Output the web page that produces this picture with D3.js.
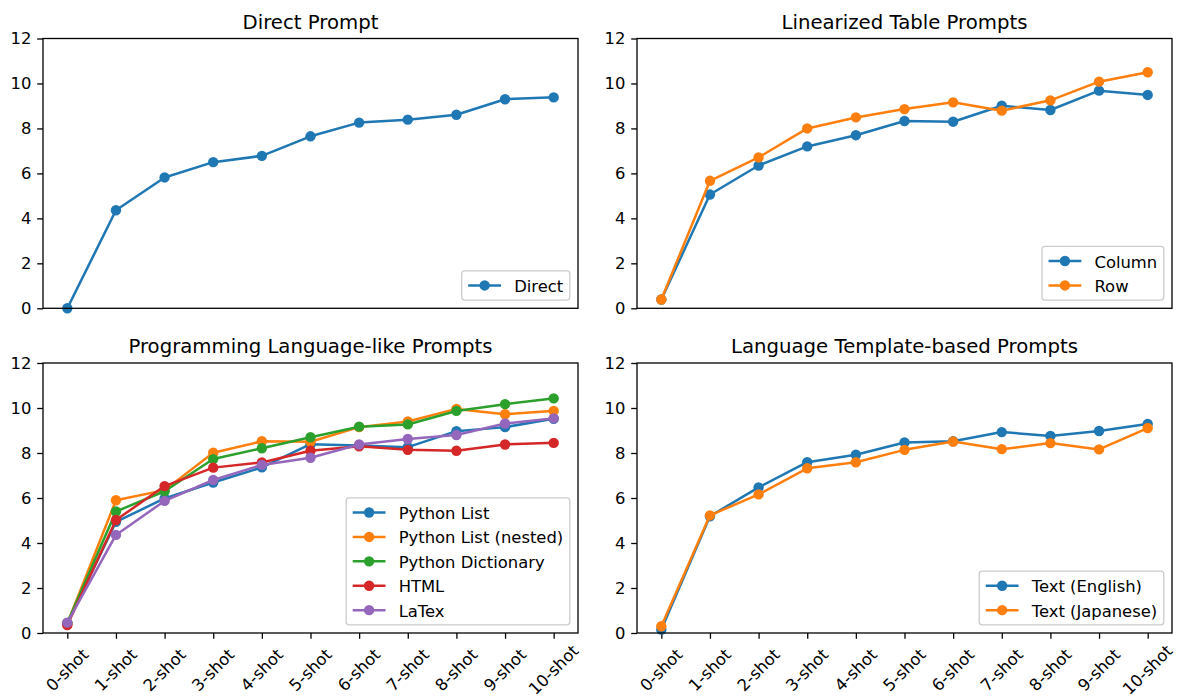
<!DOCTYPE html>
<html><head><meta charset="utf-8">
<script src="https://cdn.jsdelivr.net/npm/d3@7"></script>
<style>body{margin:0;background:#fff}svg{display:block}text{font-family:"DejaVu Sans",sans-serif;fill:#000}</style>
</head><body>
<svg id="c" width="1177" height="698"></svg>
<script>
const shots = ["0-shot","1-shot","2-shot","3-shot","4-shot","5-shot","6-shot","7-shot","8-shot","9-shot","10-shot"];
const yTicks = [0,2,4,6,8,10,12];
const panelTitles = ["Direct Prompt","Linearized Table Prompts","Programming Language-like Prompts","Language Template-based Prompts"];

const directValues = [0.0,4.36,5.82,6.5,6.78,7.65,8.26,8.39,8.61,9.3,9.38];
const columnValues = [0.39,5.06,6.35,7.2,7.7,8.33,8.3,9.01,8.82,9.68,9.49];
const rowValues = [0.39,5.67,6.71,8.0,8.49,8.86,9.16,8.79,9.25,10.08,10.5];
const pythonListValues = [0.44,4.94,5.98,6.69,7.36,8.39,8.33,8.26,8.97,9.15,9.52];
const pythonListNestedValues = [0.42,5.9,6.35,8.01,8.52,8.5,9.15,9.4,9.96,9.72,9.87];
const pythonDictValues = [0.45,5.4,6.3,7.73,8.21,8.7,9.17,9.27,9.87,10.17,10.43];
const htmlValues = [0.35,5.02,6.53,7.35,7.58,8.1,8.3,8.14,8.1,8.38,8.45];
const latexValues = [0.46,4.36,5.87,6.8,7.47,7.79,8.38,8.62,8.8,9.31,9.54];
const textEnglishValues = [0.15,5.19,6.47,7.59,7.92,8.47,8.52,8.93,8.76,8.98,9.29];
const textJapaneseValues = [0.3,5.23,6.16,7.32,7.59,8.14,8.51,8.17,8.44,8.16,9.11];

const C = ["#1f77b4","#ff7f0e","#2ca02c","#d62728","#9467bd"];
const panels = [
  {title: panelTitles[0], x0:43, x1:578, y0:38.5, y1:308.3, xlabels:false,
   series:[{name:"Direct", values:directValues}]},
  {title: panelTitles[1], x0:637, x1:1172, y0:38.5, y1:308.3, xlabels:false,
   series:[{name:"Column", values:columnValues},{name:"Row", values:rowValues}]},
  {title: panelTitles[2], x0:43, x1:578, y0:363, y1:633, xlabels:true,
   series:[{name:"Python List", values:pythonListValues},{name:"Python List (nested)", values:pythonListNestedValues},
           {name:"Python Dictionary", values:pythonDictValues},{name:"HTML", values:htmlValues},{name:"LaTex", values:latexValues}]},
  {title: panelTitles[3], x0:637, x1:1172, y0:363, y1:633, xlabels:true,
   series:[{name:"Text (English)", values:textEnglishValues},{name:"Text (Japanese)", values:textJapaneseValues}]}
];

const svg = d3.select("#c");
const FS = 16.4, TFS = 19.7, TL = 5.8;

panels.forEach(p => {
  const g = svg.append("g");
  const x = d3.scalePoint().domain(shots).range([p.x0, p.x1]).padding(0.5);
  const y = d3.scaleLinear().domain([0,12]).range([p.y1, p.y0]);

  const ya = g.append("g").attr("transform",`translate(${p.x0},0)`)
    .call(d3.axisLeft(y).tickValues(yTicks).tickSize(TL).tickPadding(5.8));
  ya.select(".domain").remove();
  ya.selectAll("line").attr("stroke","#000").attr("stroke-width",1.3);
  ya.selectAll("text").attr("font-size",FS).attr("font-family","DejaVu Sans");

  if (p.xlabels) {
    const xa = g.append("g").attr("transform",`translate(0,${p.y1})`)
      .call(d3.axisBottom(x).tickSize(TL).tickFormat(""));
    xa.select(".domain").remove();
    xa.selectAll("line").attr("stroke","#000").attr("stroke-width",1.3);
    const lab = g.append("g");
    shots.forEach(s => {
      lab.append("text").text(s).attr("font-size",FS)
        .attr("text-anchor","middle").attr("dominant-baseline","central")
        .attr("transform",`translate(${x(s)},${p.y1 + 37}) rotate(-45)`);
    });
  }

  const line = d3.line().x((d,i)=>x(shots[i])).y(d=>y(d));
  p.series.forEach((s,k) => {
    const sg = g.append("g");
    sg.append("path").attr("d", line(s.values)).attr("fill","none")
      .attr("stroke",C[k]).attr("stroke-width",2.5).attr("stroke-linejoin","round").attr("stroke-linecap","square");
    sg.selectAll("circle").data(s.values).join("circle")
      .attr("cx",(d,i)=>x(shots[i])).attr("cy",d=>y(d)).attr("r",5.2).attr("fill",C[k]);
  });

  g.append("rect").attr("x",p.x0).attr("y",p.y0).attr("width",p.x1-p.x0).attr("height",p.y1-p.y0)
    .attr("fill","none").attr("stroke","#000").attr("stroke-width",1.3);

  g.append("text").text(p.title).attr("x",(p.x0+p.x1)/2).attr("y",p.y0-9.8)
    .attr("text-anchor","middle").attr("font-size",TFS);

  const pad = 0.4*FS, hl = 2*FS, htp = 0.8*FS, rowH = 16.2, ls = 0.5*FS;
  const lg = g.append("g");
  const box = lg.append("rect");
  const texts = p.series.map(s => lg.append("text").text(s.name).attr("font-size",FS).attr("dominant-baseline","central"));
  const maxW = d3.max(texts, t => t.node().getComputedTextLength());
  const n = p.series.length;
  const bw = pad + hl + htp + maxW + pad;
  const bh = 2*pad + n*rowH + (n-1)*ls;
  const bx = p.x1 - 0.5*FS - bw, by = p.y1 - 0.5*FS - bh;
  box.attr("x",bx).attr("y",by).attr("width",bw).attr("height",bh).attr("rx",3)
    .attr("fill","#fff").attr("fill-opacity",0.8).attr("stroke","#cccccc").attr("stroke-width",1.3);
  p.series.forEach((s,k) => {
    const cy = by + pad + k*(rowH+ls) + rowH/2;
    lg.append("line").attr("x1",bx+pad).attr("x2",bx+pad+hl).attr("y1",cy).attr("y2",cy)
      .attr("stroke",C[k]).attr("stroke-width",2.5);
    lg.append("circle").attr("cx",bx+pad+hl/2).attr("cy",cy).attr("r",5.2).attr("fill",C[k]);
    texts[k].attr("x",bx+pad+hl+htp).attr("y",cy+1).raise();
  });
});
</script>
</body></html>
